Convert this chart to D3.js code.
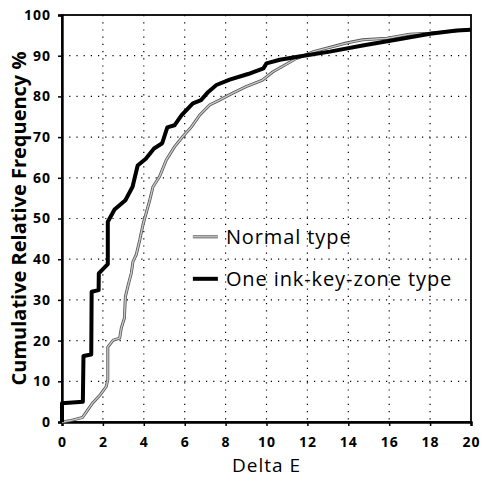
<!DOCTYPE html>
<html>
<head>
<meta charset="utf-8">
<script src="https://cdn.jsdelivr.net/npm/d3@7"></script>
<style>
  body { margin: 0; background: #fff; }
  text { font-family: "Open Sans", "DejaVu Sans", sans-serif; }
</style>
</head>
<body>
<div id="chart"></div>
<script>
// data
var xTicks = [0, 2, 4, 6, 8, 10, 12, 14, 16, 18, 20];
var yTicks = [0, 10, 20, 30, 40, 50, 60, 70, 80, 90, 100];

// One ink-key-zone type (thick, step-like)
var oneX = [0, 0, 1.02, 1.05, 1.43, 1.45, 1.79, 1.8, 2.24, 2.24, 2.57, 3.1, 3.45, 3.7, 4.1, 4.5, 4.9, 5.15, 5.5, 5.85, 6.4, 6.8, 7.15, 7.55, 8.2, 9.1, 9.85, 10.0, 10.65, 11.6, 13.1, 14.7, 16.4, 18.0, 19.3, 20];
var oneY = [0, 4.6, 5.0, 16.2, 16.6, 32.0, 32.4, 36.5, 38.8, 49.2, 52.2, 54.5, 57.8, 63.0, 64.7, 67.2, 68.5, 72.4, 72.9, 75.4, 78.3, 79.1, 81.1, 82.8, 84.1, 85.5, 86.9, 88.1, 89.0, 89.8, 91.0, 92.5, 94.0, 95.4, 96.2, 96.4];

// Normal type (thin grey)
var normX = [0, 0.45, 1.0, 1.26, 1.5, 1.84, 2.16, 2.24, 2.24, 2.5, 2.82, 2.9, 3.05, 3.1, 3.22, 3.39, 3.47, 3.63, 3.8, 3.96, 4.28, 4.45, 4.77, 5.1, 5.5, 5.9, 6.33, 6.73, 7.22, 7.7, 8.3, 9.0, 9.8, 10.3, 11.45, 12.3, 13.9, 14.7, 15.9, 17.0, 18.0, 19.3, 20];
var normY = [0, 0.4, 1.1, 3.0, 4.7, 6.5, 8.7, 10.4, 18.4, 20.1, 20.6, 23.1, 25.5, 30.8, 33.3, 36.6, 39.4, 41.1, 44.7, 48.5, 54.3, 57.8, 60.3, 64.4, 67.6, 70.1, 72.5, 75.4, 77.9, 79.1, 80.7, 82.4, 84.0, 86.0, 89.3, 91.0, 93.1, 93.9, 94.3, 95.3, 95.5, 96.1, 96.5];

var seriesNames = ["Normal type", "One ink-key-zone type"];

var margin = { top: 15, right: 11, bottom: 57, left: 62 },
  width = 482 - margin.left - margin.right,
  height = 479 - margin.top - margin.bottom;

var svg = d3.select("#chart")
  .append("svg")
  .attr("width", 482)
  .attr("height", 479)
  .append("g")
  .attr("transform", "translate(" + margin.left + "," + margin.top + ")");

var x = d3.scaleLinear().domain([0, 20]).range([0, width]);
var y = d3.scaleLinear().domain([0, 100]).range([height, 0]);

// dotted grid
svg.append("g")
  .selectAll("line.vg")
  .data(xTicks.slice(1, -1))
  .enter().append("line")
  .attr("x1", function (d) { return x(d); })
  .attr("x2", function (d) { return x(d); })
  .attr("y1", 0).attr("y2", height)
  .attr("stroke", "#000").attr("stroke-width", 1.2)
  .attr("stroke-dasharray", "1.2,6");
svg.append("g")
  .selectAll("line.hg")
  .data(yTicks.slice(1, -1))
  .enter().append("line")
  .attr("y1", function (d) { return y(d); })
  .attr("y2", function (d) { return y(d); })
  .attr("x1", 0).attr("x2", width)
  .attr("stroke", "#000").attr("stroke-width", 1.2)
  .attr("stroke-dasharray", "1.2,6");

// frame
svg.append("rect")
  .attr("x", 0).attr("y", 0)
  .attr("width", width).attr("height", height)
  .attr("fill", "none").attr("stroke", "#000").attr("stroke-width", 1.8);

// axes
var xAxis = svg.append("g")
  .attr("transform", "translate(0," + height + ")")
  .call(d3.axisBottom(x).tickValues(xTicks).tickSize(4).tickPadding(11));
var yAxis = svg.append("g")
  .call(d3.axisLeft(y).tickValues(yTicks).tickSize(4).tickPadding(7));
[xAxis, yAxis].forEach(function (a) {
  a.select(".domain").attr("stroke-width", 2.4);
  a.selectAll(".tick line").attr("stroke-width", 1.5);
  a.selectAll("text")
    .style("font-family", "'Open Sans', sans-serif")
    .style("font-size", "14px")
    .style("font-weight", "bold")
    .style("letter-spacing", "1px")
    .attr("fill", "#000");
});

var line = d3.line()
  .x(function (d) { return x(d[0]); })
  .y(function (d) { return y(d[1]); });

var normData = normX.map(function (v, i) { return [v, normY[i]]; });
var oneData = oneX.map(function (v, i) { return [v, oneY[i]]; });

// Normal type: grey line with dark speckled edges
svg.append("path").datum(normData)
  .attr("fill", "none").attr("stroke", "#555").attr("stroke-width", 3)
  .attr("d", line);
svg.append("path").datum(normData)
  .attr("fill", "none").attr("stroke", "#c8c8c8").attr("stroke-width", 1.4)
  .attr("d", line);

// One ink-key-zone type: thick black
svg.append("path").datum(oneData)
  .attr("fill", "none").attr("stroke", "#000").attr("stroke-width", 4)
  .attr("stroke-linejoin", "round")
  .attr("d", line);

// legend
var lg = svg.append("g").attr("transform", "translate(" + x(6.4) + "," + y(45.5) + ")");
lg.append("line").attr("x1", 0).attr("x2", 25).attr("y1", 0).attr("y2", 0)
  .attr("stroke", "#555").attr("stroke-width", 3);
lg.append("line").attr("x1", 0).attr("x2", 25).attr("y1", 0).attr("y2", 0)
  .attr("stroke", "#c8c8c8").attr("stroke-width", 1.4);
lg.append("text").attr("x", 33).attr("y", 0).attr("dy", "0.35em")
  .style("font-size", "20px").style("letter-spacing", "0.9px").text(seriesNames[0]);
lg.append("line").attr("x1", 0).attr("x2", 25).attr("y1", 42).attr("y2", 42)
  .attr("stroke", "#000").attr("stroke-width", 4);
lg.append("text").attr("x", 33).attr("y", 42).attr("dy", "0.35em")
  .style("font-size", "20px").style("letter-spacing", "0.9px").text(seriesNames[1]);

// axis titles
svg.append("text")
  .attr("x", width / 2).attr("y", height + 50)
  .style("text-anchor", "middle").style("font-size", "19px").style("letter-spacing", "1px")
  .text("Delta E");
svg.append("text")
  .attr("transform", "rotate(-90)")
  .attr("x", -height / 2).attr("y", -36)
  .style("text-anchor", "middle").style("font-size", "20px").style("font-weight", "bold")
  .text("Cumulative Relative Frequency %");
</script>
</body>
</html>
